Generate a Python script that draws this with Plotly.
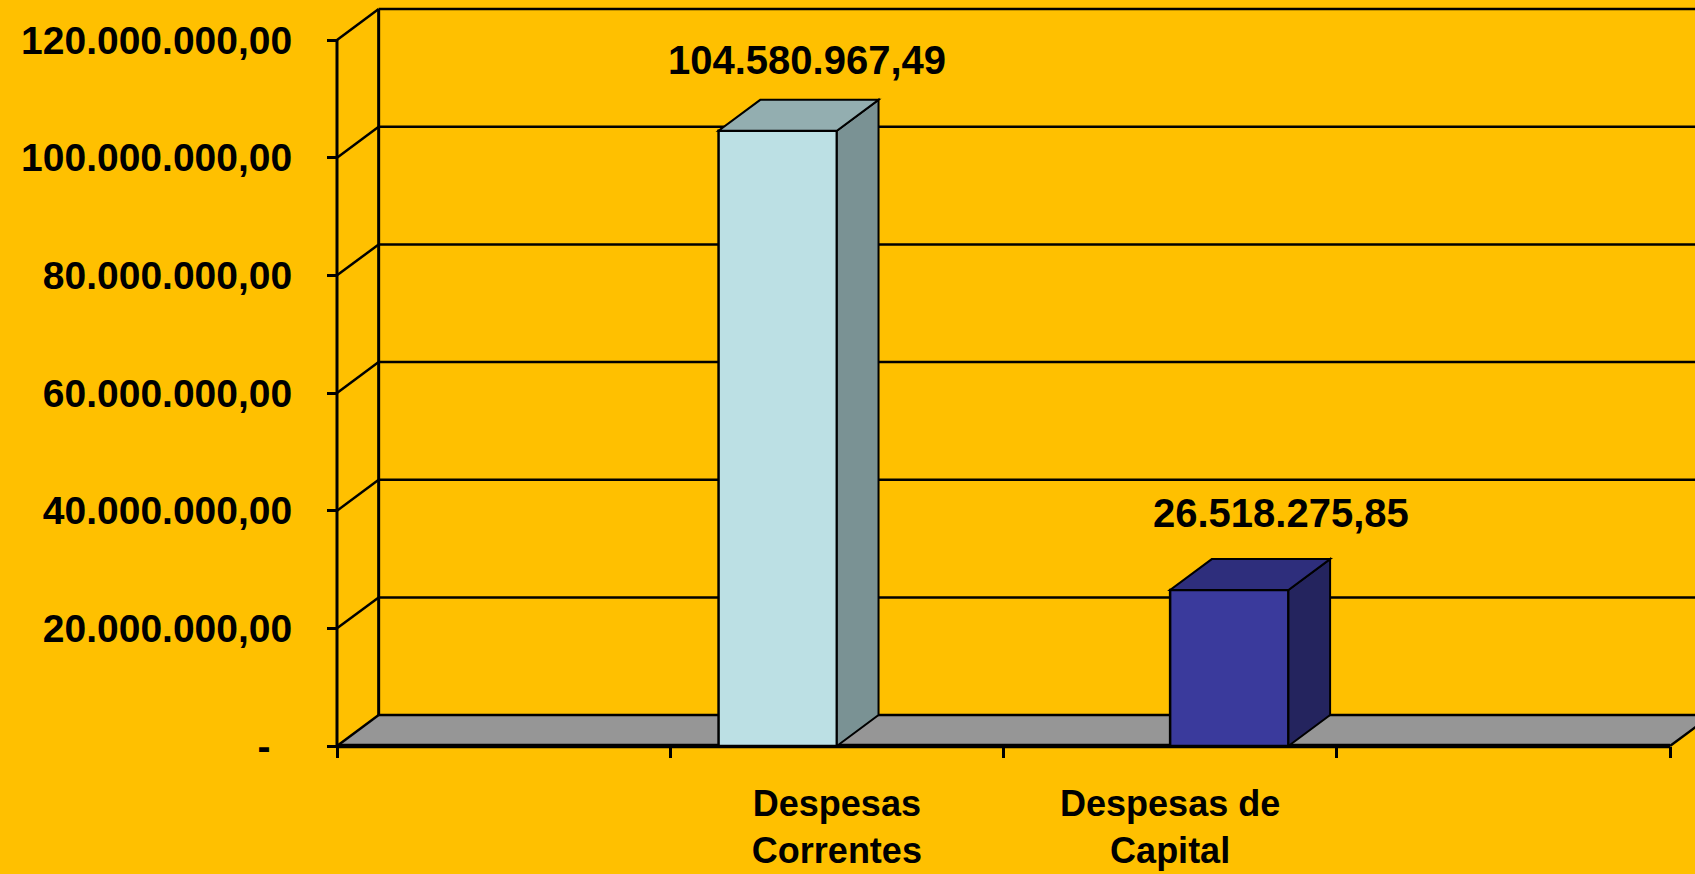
import plotly.graph_objects as go

# ---- data -------------------------------------------------------------
categories = ["", "Despesas<br>Correntes", "Despesas de<br>Capital", ""]
series_names = ["Despesas Correntes", "Despesas de Capital"]
series_values = [104580967.49, 26518275.85]
series_category = [1, 2]          # category slot each series sits in
y_tick_values = [0, 20e6, 40e6, 60e6, 80e6, 100e6, 120e6]


def br_number(v):
    """Brazilian number format: 104.580.967,49 ; zero shown as a dash."""
    if v == 0:
        return "-\u00a0\u00a0"
    s = f"{v:,.2f}"
    return s.replace(",", "#").replace(".", ",").replace("#", ".")


y_tick_text = [br_number(v) for v in y_tick_values]

# ---- styling ------------------------------------------------------------
BG = "#FFC000"
FLOOR = "#969696"
FRONT = ["#BCE0E4", "#3A3A9C"]
SIDE = ["#7A9294", "#24245E"]
TOP = ["#93AEB0", "#2E2E7C"]
FONT = "Liberation Sans, Arial, sans-serif"

W, H = 1695, 874
PAD = 8                      # px of plot area kept outside the front axes
M_L, M_B = 337 - PAD, 128 - PAD
PX_PER_X = 333.25            # px per category
PX_PER_Y = 706 / 120e6       # px per unit of value
X_RANGE = [-0.5 - PAD / PX_PER_X, -0.5 + (W - 337) / PX_PER_X]
Y_RANGE = [-PAD / PX_PER_Y, (H - 128) / PX_PER_Y]
BARGAP = 0.29
# 3-D depth of the walls / bars, in data units
DX = 0.125
DY = 5.25e6
Y_TOP = y_tick_values[-1]
X_LEFT = -0.5
X_RIGHT = len(categories) - 0.5
LABEL_SHIFT = [(8, 40), (31, 46)]
GRID_W = 2.5

fig = go.Figure()

bar_w = (1 - BARGAP) / len(series_names)
for i, (name, val, cat) in enumerate(zip(series_names, series_values, series_category)):
    ys = [None] * len(categories)
    ys[cat] = val
    fig.add_trace(go.Bar(
        x=list(range(len(categories))), y=ys, name=name,
        marker=dict(color=FRONT[i], line=dict(color="black", width=2.5)),
        hoverinfo="skip", showlegend=False,
    ))

shapes = []


def poly(pts, fill, layer="below", lw=0, lc="black"):
    path = "M " + " L ".join(f"{x},{y}" for x, y in pts) + " Z"
    return dict(type="path", path=path, xref="x", yref="y", fillcolor=fill,
                line=dict(color=lc, width=lw), layer=layer)


def seg(x0, y0, x1, y1, w=GRID_W, layer="below"):
    return dict(type="line", xref="x", yref="y", x0=x0, y0=y0, x1=x1, y1=y1,
                line=dict(color="black", width=w), layer=layer)


# floor slab
shapes.append(poly([(X_LEFT, 0), (X_RIGHT, 0), (X_RIGHT + DX, DY), (X_LEFT + DX, DY)], FLOOR))
# back-wall gridlines and side-wall diagonals
for v in y_tick_values:
    shapes.append(seg(X_LEFT + DX, v + DY, X_RANGE[1] + 0.1, v + DY))
    shapes.append(seg(X_LEFT, v, X_LEFT + DX, v + DY))
# wall edges and front axes
shapes.append(seg(X_LEFT + DX, DY, X_LEFT + DX, Y_TOP + DY, w=3))
shapes.append(seg(X_LEFT, 0, X_LEFT, Y_TOP, w=3))
shapes.append(seg(X_RIGHT, 0, X_RIGHT + DX, DY))
shapes.append(seg(X_LEFT, 0, X_RIGHT, 0, w=4.5))

# side and top faces of each bar
n = len(series_names)
annotations = []
for i, (val, cat) in enumerate(zip(series_values, series_category)):
    x0 = cat - bar_w * n / 2 + i * bar_w
    x1 = x0 + bar_w
    shapes.append(poly([(x1, 0), (x1 + DX, DY), (x1 + DX, val + DY), (x1, val)],
                       SIDE[i], layer="above", lw=2))
    shapes.append(poly([(x0, val), (x1, val), (x1 + DX, val + DY), (x0 + DX, val + DY)],
                       TOP[i], layer="above", lw=2))
    annotations.append(dict(
        x=(x0 + x1) / 2 + DX / 2, y=val + DY, xref="x", yref="y",
        text=br_number(val), showarrow=False, yanchor="middle",
        xshift=LABEL_SHIFT[i][0], yshift=LABEL_SHIFT[i][1],
        font=dict(family=FONT, size=40, color="black", weight="bold"),
    ))

plot_w = W - M_L
plot_h = H - M_B
fig.update_layout(
    width=W, height=H,
    margin=dict(l=M_L, r=0, t=0, b=M_B, autoexpand=False),
    paper_bgcolor=BG, plot_bgcolor=BG,
    barmode="group", bargap=BARGAP,
    shapes=shapes, annotations=annotations,
    xaxis=dict(
        range=X_RANGE, showgrid=False, zeroline=False, showline=False,
        anchor="free", position=PAD / plot_h,
        tickmode="array", tickvals=list(range(len(categories))), ticktext=categories,
        ticks="", ticklabelstandoff=33,
        tickfont=dict(family=FONT, size=36, color="black", weight="bold"),
        minor=dict(tickmode="array",
                   tickvals=[i - 0.5 for i in range(len(categories) + 1)],
                   ticks="outside", ticklen=11, tickwidth=3, tickcolor="black",
                   showgrid=False),
    ),
    yaxis=dict(
        range=Y_RANGE, showgrid=False, zeroline=False, showline=False,
        anchor="free", position=PAD / plot_w,
        tickmode="array", tickvals=y_tick_values, ticktext=y_tick_text,
        ticks="outside", ticklen=10, tickwidth=3, tickcolor="black",
        ticklabelstandoff=27,
        tickfont=dict(family=FONT, size=39, color="black", weight="bold"),
    ),
)

fig.write_html("out.html")
